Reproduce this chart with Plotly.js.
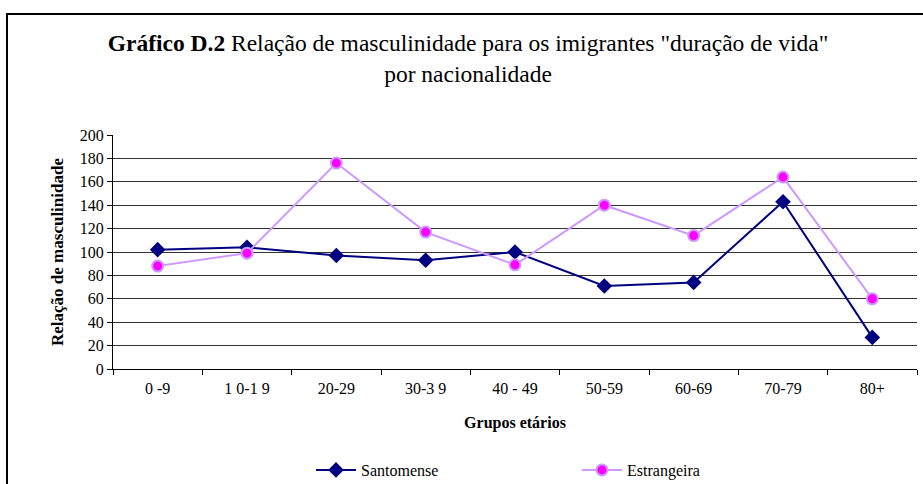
<!DOCTYPE html>
<html>
<head>
<meta charset="utf-8">
<script src="https://cdn.plot.ly/plotly-3.0.1.min.js"></script>
<style>html,body{margin:0;padding:0;background:#fff;}#chart{width:923px;height:484px;}</style>
</head>
<body>
<div id="chart"></div>
<script>
const categories = ["0 -9", "1 0-1 9", "20-29", "30-3 9", "40 - 49", "50-59", "60-69", "70-79", "80+"];
const santomense = [102, 104, 97, 93, 100, 71, 74, 143, 27];
const estrangeira = [88, 99, 176, 117, 89, 140, 114, 164, 60];
const yTicks = [0, 20, 40, 60, 80, 100, 120, 140, 160, 180, 200];

const font = "'Liberation Serif', 'Times New Roman', serif";

const traces = [
  {
    x: categories, y: santomense, name: "Santomense", type: "scatter", mode: "lines+markers",
    line: {color: "#000080", width: 2},
    marker: {symbol: "diamond", size: 12, color: "#000080", line: {color: "#000080", width: 0}}
  },
  {
    x: categories, y: estrangeira, name: "Estrangeira", type: "scatter", mode: "lines+markers",
    line: {color: "#CC99FF", width: 2},
    marker: {symbol: "circle", size: 11, color: "#FF00FF", line: {color: "#CC99FF", width: 2}}
  }
];

const L = 113, R = 917, T = 135, B = 369;
const pw = R - L, ph = B - T;
function px(x){ return (x - L) / pw; }
function py(y){ return (B - y) / ph; }

const layout = {
  width: 923, height: 484,
  margin: {l: L, r: 923 - R, t: T, b: 484 - B, autoexpand: false},
  paper_bgcolor: "#fff", plot_bgcolor: "#fff",
  font: {family: font, color: "#000", size: 16},
  title: {
    text: "<b>Gráfico D.2</b> Relação de masculinidade para os imigrantes \"duração de vida\"<br>por nacionalidade",
    font: {family: font, size: 23.5, color: "#000"},
    x: 468/923, xanchor: "center", xref: "container",
    y: 1 - 51/484, yanchor: "top", yref: "container"
  },
  xaxis: {
    type: "category", range: [-0.5, 8.5],
    showline: true, linecolor: "#000", linewidth: 1,
    ticks: "outside", tickson: "boundaries", ticklen: 5, tickcolor: "#000",
    ticklabelstandoff: 5,
    showgrid: false, zeroline: false,
    tickfont: {family: font, size: 16, color: "#000"},
    title: {text: "<b>Grupos etários</b>", font: {family: font, size: 16, color: "#000"}, standoff: 20},
    automargin: false
  },
  yaxis: {
    range: [0, 200], tickvals: yTicks,
    showline: true, linecolor: "#000", linewidth: 1,
    ticks: "outside", ticklen: 5, tickcolor: "#000",
    showgrid: true, gridcolor: "#333", gridwidth: 1, zeroline: false,
    tickfont: {family: font, size: 16, color: "#000"},
    title: {text: "<b>Relação de masculinidade</b>", font: {family: font, size: 17, color: "#000"}, standoff: 11},
    automargin: false
  },
  showlegend: true,
  legend: {
    orientation: "h", x: px(311), xanchor: "left", y: py(470), yanchor: "middle",
    font: {family: font, size: 16, color: "#000"},
    itemwidth: 40,
    entrywidth: 211, entrywidthmode: "pixels",
    bgcolor: "rgba(0,0,0,0)"
  },
  shapes: [
    {type: "rect", xref: "paper", yref: "paper",
     x0: px(7), x1: px(940), y0: py(500), y1: py(14),
     line: {color: "#000", width: 2}, fillcolor: "rgba(0,0,0,0)", layer: "below"}
  ]
};

Plotly.newPlot("chart", traces, layout, {displayModeBar: false, staticPlot: true});
</script>
</body>
</html>
